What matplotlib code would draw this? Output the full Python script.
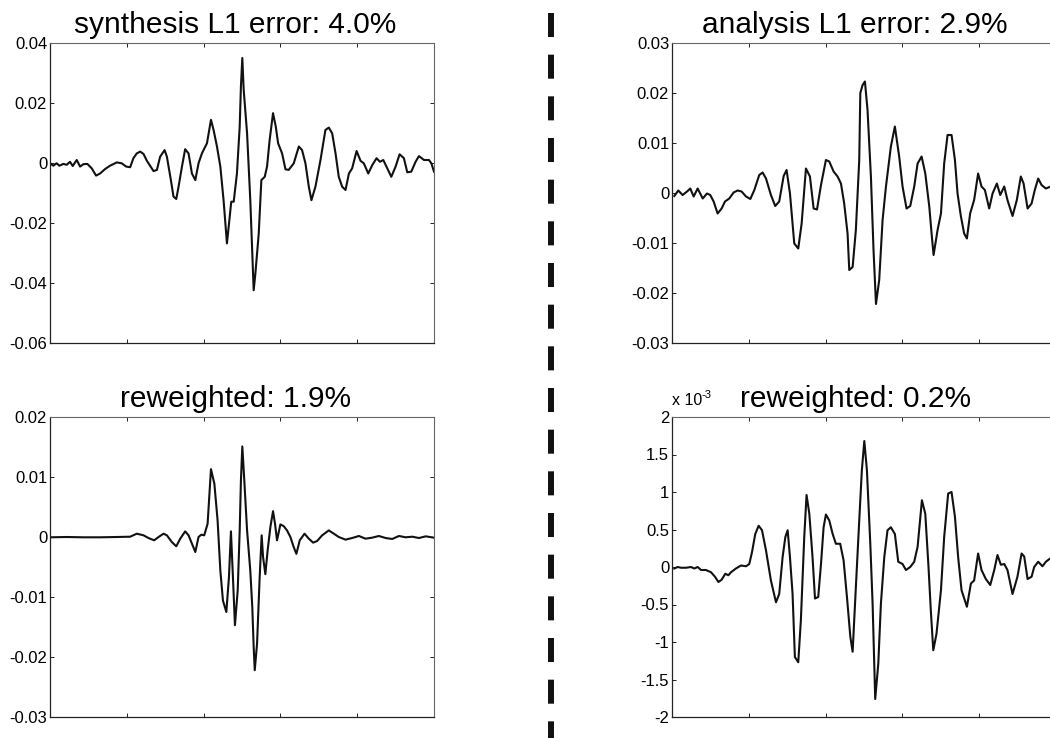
import numpy as np
import matplotlib
matplotlib.use('Agg')
import matplotlib.pyplot as plt
from matplotlib.lines import Line2D
from matplotlib.ticker import FuncFormatter

plt.rcParams['font.family'] = ['Liberation Sans', 'DejaVu Sans']
plt.rcParams['axes.unicode_minus'] = False
plt.rcParams['lines.scale_dashes'] = False

# error signals, y in units of 1e-3
syn_x = [0, 2.2, 4.3, 6.1, 8.7, 10.9, 13.0, 14.8, 17.4, 19.6, 21.7, 24.3, 27.2, 30.0, 32.6,
         35.9, 39.1, 43.5, 46.7, 49.6, 52.2, 54.3, 56.5, 58.7, 60.9, 63.0, 67.4, 69.6, 71.7,
         74.6, 76.1, 78.7, 80.4, 82.2, 83.7, 85.9, 88.0, 90.2, 92.4, 94.6, 96.7, 98.9, 102.2,
         104.8, 106.5, 108.7, 110.9, 113.0, 115.2, 117.0, 118.0, 119.6, 121.7, 123.5, 124.3,
         125.2, 126.1, 128.3, 130.4, 132.6, 133.7, 135.9, 137.6, 139.8, 141.3, 143.0, 145.2,
         147.0, 148.5, 151.1, 153.3, 155.4, 158.7, 162.0, 164.1, 166.3, 168.5, 170.2, 172.8,
         176.1, 179.3, 181.5, 183.7, 185.9, 188.0, 190.2, 192.4, 194.6, 196.7, 199.6, 202.2,
         204.3, 207.2, 209.8, 212.6, 214.8, 217.0, 219.6, 222.2, 225.0, 227.6, 230.4, 232.6,
         235.2, 238.0, 240.2, 243.5, 246.7, 248.3, 250.0]
syn_y = [-0.1, -0.9, -0.1, -0.9, -0.3, -0.6, 0.4, -1.0, 1.0, -1.2, -0.4, -0.3, -1.8, -4.2, -3.5,
         -2.0, -0.9, 0.2, -0.1, -1.2, -1.4, 1.6, 3.2, 3.8, 3.0, 0.8, -2.7, -2.3, 2.1,
         4.3, 2.1, -5.7, -11.2, -12.0, -7.9, -1.2, 4.6, 3.2, -3.5, -5.7, -0.1, 3.2, 6.6,
         14.4, 11.0, 5.5, -1.2, -12.4, -26.8, -17.9, -12.9, -12.9, -3.5, 12.1, 25.5,
         35.0, 24.4, 9.9, -12.4, -42.4, -36.9, -23.5, -5.7, -4.6, -1.2, 7.7, 16.6,
         12.1, 6.6, 3.2, -2.1, -2.3, -0.1, 5.5, 4.3, -0.1, -7.9, -12.4, -7.9,
         1.0, 11.0, 11.8, 9.9, 3.2, -4.6, -7.9, -9.0, -3.5, -1.8, 4.0, 0.7,
         -0.1, -3.5, -0.7, 1.6, 0.4, 1.0, -1.8, -4.6, -1.2, 2.9, 1.6, -3.1,
         -2.9, 0.4, 2.3, 1.0, 1.0, -0.1, -2.9]

ana_x = [1.5, 4.1, 6.9, 9.8, 11.9, 14.1, 16.7, 20.0, 22.8, 24.9, 27.1, 29.7, 32.3, 34.5, 37.3,
         40.1, 42.7, 45.3, 48.2, 51.0, 53.6, 56.8, 59.0, 61.2, 64.4, 67.2, 69.8, 72.7, 74.6,
         76.8, 79.6, 82.2, 84.4, 87.2, 89.8, 92.2, 94.4, 97.0, 100.2, 102.4, 105.2, 107.8,
         110.0, 112.1, 114.3, 115.4, 117.6, 119.7, 121.9, 122.6, 124.1, 125.6, 127.3, 129.5,
         131.2, 132.8, 134.9, 137.1, 139.3, 142.5, 145.1, 147.9, 150.1, 152.7, 155.1, 157.7,
         159.9, 162.5, 164.9, 167.5, 169.0, 170.3, 172.9, 175.1, 177.2, 179.4, 182.0, 184.2,
         185.9, 188.1, 190.2, 192.0, 194.1, 196.7, 199.3, 201.5, 203.7, 206.5, 208.7, 211.5,
         213.7, 216.3, 218.4, 221.7, 224.5, 227.1, 228.9, 231.5, 234.1, 236.2, 238.4, 240.6,
         243.4, 246.6, 250.0]
ana_y = [-0.6, 0.5, -0.4, 0.3, 0.9, -0.7, 0.9, -1.1, -0.1, -0.4, -1.7, -4.1, -3.1, -1.7, -1.1,
         0.1, 0.5, 0.3, -0.7, -1.2, 0.6, 3.6, 4.1, 2.9, -0.4, -2.6, -1.7, 3.4, 4.6,
         -0.1, -10.1, -11.1, -6.1, 4.9, 3.3, -3.1, -3.3, 1.6, 6.6, 6.3, 4.3, 3.3,
         1.9, -2.1, -8.1, -15.4, -14.8, -7.4, 6.6, 20.0, 21.6, 22.3, 16.6, 3.3,
         -11.4, -22.2, -17.4, -5.4, 1.3, 9.3, 13.3, 7.3, 1.3, -3.1, -2.6, 1.3,
         5.9, 7.3, 3.9, -2.7, -8.1, -12.4, -7.4, -4.1, 5.9, 11.6, 11.6, 6.6,
         -0.1, -4.7, -8.1, -9.1, -4.1, -1.4, 3.9, 1.3, 0.6, -3.1, -0.1, 1.9,
         -0.4, 1.3, -1.4, -4.6, -1.4, 3.3, 1.9, -3.1, -2.1, 0.6, 2.9, 1.6,
         0.9, 1.3, 1.0]

syn_rw_x = [0, 10.9, 21.7, 32.6, 43.5, 52.2, 56.5, 60.9, 64.1, 67.8, 70.7, 73.9, 76.1, 79.3,
            82.2, 84.8, 88.0, 90.2, 92.4, 94.6, 96.7, 98.5, 100.4, 102.6, 104.8, 107.0, 109.1,
            110.9, 112.6, 114.8, 116.5, 117.8, 119.1, 120.4, 122.2, 123.5, 124.3, 125.2, 126.5,
            128.3, 130.4, 131.7, 132.6, 133.3, 134.8, 136.5, 137.8, 138.7, 140.2, 141.7, 143.5,
            145.2, 146.5, 147.8, 150.0, 152.2, 154.3, 156.5, 158.7, 160.4, 162.6, 165.7, 168.5,
            171.3, 173.9, 177.2, 181.5, 184.8, 188.0, 192.4, 196.7, 201.1, 205.4, 209.8, 214.1,
            218.5, 222.8, 227.2, 231.5, 235.9, 240.2, 244.6, 250.0]
syn_rw_y = [-0.05, 0, -0.05, -0.05, 0, 0.05, 0.55, 0.28, -0.17, -0.55, 0, 0.55, 0.28, -0.83,
            -1.55, -0.28, 0.94, 0.28, -1.1, -2.5, 0, 0.39, 0.28, 2.2, 11.3, 8.9, 2.8,
            -5.6, -10.6, -12.5, -6.7, 0.94, -6.7, -14.7, -8.9, 1.1, 9.4, 15.1, 9.4,
            1.1, -5.6, -11.7, -18.3, -22.2, -17.8, -6.7, 0.28, -3.3, -6.2, -2.2, 1.7,
            4.3, 2.2, -0.55, 2.1, 1.8, 1.1, 0, -1.7, -2.8, -0.55, 0.55, -0.28,
            -0.94, -0.67, 0.28, 1.1, 0.55, 0, -0.44, -0.17, 0.17, -0.28, -0.11, 0.17,
            -0.17, -0.33, 0.17, -0.05, 0.05, -0.17, 0.11, -0.11]

ana_rw_x = [1.5, 3.7, 5.9, 9.1, 12.4, 14.5, 16.7, 18.9, 22.1, 25.4, 28.0, 30.2, 32.3, 34.7,
            36.7, 38.4, 41.6, 44.9, 48.2, 50.3, 52.1, 54.2, 56.4, 58.6, 61.2, 64.4, 67.7,
            69.8, 72.0, 73.8, 75.3, 76.8, 78.5, 80.0, 82.2, 83.9, 86.1, 87.6, 89.4, 91.5,
            93.1, 95.2, 97.0, 98.7, 100.2, 102.4, 104.6, 106.7, 109.5, 111.7, 113.9, 116.1,
            117.6, 119.7, 121.9, 123.6, 125.2, 126.9, 129.1, 130.6, 132.3, 134.3, 136.0,
            138.2, 140.3, 142.5, 145.1, 147.3, 150.1, 152.3, 155.1, 157.7, 159.9, 162.7,
            164.9, 167.0, 168.5, 170.1, 172.2, 175.1, 177.2, 179.8, 182.0, 184.2, 186.3,
            188.5, 192.0, 194.6, 196.7, 199.3, 201.5, 204.3, 207.2, 209.8, 211.9, 214.1,
            216.3, 218.4, 221.7, 224.9, 227.6, 229.3, 231.5, 234.1, 235.8, 238.4, 241.2,
            243.4, 246.6]
ana_rw_y = [-0.02, 0, -0.01, -0.01, 0, -0.02, 0, -0.04, -0.04, -0.07, -0.13, -0.20, -0.17, -0.09,
            -0.11, -0.07, -0.02, 0.02, 0.01, 0.04, 0.20, 0.44, 0.55, 0.49, 0.22, -0.18, -0.47,
            -0.36, 0.13, 0.40, 0.49, 0.13, -0.36, -1.20, -1.27, -0.71, 0.40, 0.96, 0.71, 0.13,
            -0.42, -0.40, 0.04, 0.53, 0.70, 0.62, 0.44, 0.31, 0.31, 0.09, -0.40, -0.93,
            -1.13, -0.27, 0.62, 1.29, 1.68, 1.29, 0.31, -0.49, -1.76, -1.29, -0.49,
            0.13, 0.49, 0.53, 0.44, 0.07, 0.04, -0.04, 0, 0.07, 0.27, 0.89,
            0.71, 0, -0.58, -1.11, -0.89, -0.31, 0.40, 0.98, 1.00, 0.67, 0.13,
            -0.31, -0.53, -0.22, -0.18, 0.18, -0.04, -0.16, -0.24, -0.04, 0.16, 0.03,
            0.04, -0.04, -0.36, -0.13, 0.18, 0.14, -0.16, -0.13, 0, 0.07, 0.01,
            0.07, 0.12]

titles = ['synthesis L1 error: 4.0%', 'analysis L1 error: 2.9%',
          'reweighted: 1.9%', 'reweighted: 0.2%']

W, H = 1050, 738
fig = plt.figure(figsize=(W / 100, H / 100), dpi=100)

# axes boxes in pixels: left, top (same size for all four)
boxes = [(50, 43), (672, 43), (50, 417), (672, 417)]
aw, ah = 384, 300

panels = [
    (syn_x, syn_y, (-0.06, 0.04), 0.02),
    (ana_x, ana_y, (-0.03, 0.03), 0.01),
    (syn_rw_x, syn_rw_y, (-0.03, 0.02), 0.01),
    (ana_rw_x, ana_rw_y, (-0.002, 0.002), 0.0005),
]

for i, ((px, py), (xs, ys, ylim, ystep)) in enumerate(zip(boxes, panels)):
    ax = fig.add_axes([px / W, 1 - (py + ah) / H, aw / W, ah / H])
    ax.plot(xs, np.array(ys) * 1e-3, color='#111111', lw=1.5)
    ax.set_xlim(0, 250)
    ax.set_ylim(*ylim)
    ax.set_xticks(np.arange(0, 251, 50))
    ax.set_yticks(np.arange(ylim[0], ylim[1] + ystep / 2, ystep))
    ax.set_xticklabels([])
    if i == 3:
        ax.yaxis.set_major_formatter(FuncFormatter(lambda v, p: '%g' % round(v * 1e3, 2)))
        ax.text(0.0, 1.03, 'x 10', transform=ax.transAxes, fontsize=11.5,
                ha='left', va='bottom')
        ax.text(0.078, 1.055, '-3', transform=ax.transAxes, fontsize=8,
                ha='left', va='bottom')
    else:
        ax.yaxis.set_major_formatter(FuncFormatter(lambda v, p: '%g' % round(v, 4)))
    ax.tick_params(direction='in', length=3, width=0.7, top=True, right=True,
                   labelsize=12, pad=2, colors='#222222', labelcolor='black')
    for side in ['left', 'bottom']:
        ax.spines[side].set_color('#222222')
        ax.spines[side].set_linewidth(0.9)
    for side in ['top', 'right']:
        ax.spines[side].set_color('#666666')
        ax.spines[side].set_linewidth(0.8)
    tx = 0.483 if i % 2 == 0 else 0.477
    ax.set_title(titles[i], fontsize=21.5, x=tx, pad=7)

# separator between the two columns
sep = Line2D([551 / W, 551 / W], [1 - 13 / H, 0], transform=fig.transFigure,
             color='#111111', lw=4.3, dashes=(17.3, 12.7))
fig.add_artist(sep)

fig.savefig('out.png', dpi=100)
